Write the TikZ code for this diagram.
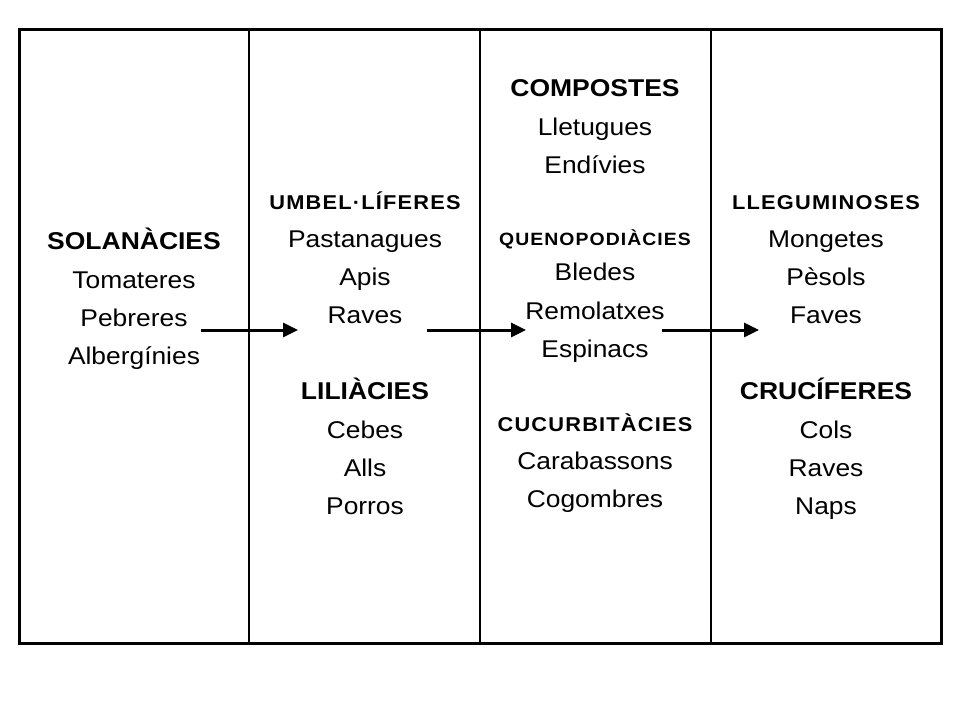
\documentclass[tikz,border=0pt]{standalone}
\usepackage{fontspec}
\setmainfont{Liberation Sans}[FakeStretch=1.09]
\usetikzlibrary{arrows.meta}

\tikzset{
  txt/.style={anchor=base, inner sep=0pt, font=\fontsize{24.2}{30}\selectfont},
  fam/.style={anchor=base, inner sep=0pt, font=\bfseries\fontsize{24.3}{30}\selectfont},
  sub/.style={anchor=base, inner sep=0pt, font=\bfseries\fontsize{20}{22}\selectfont\addfontfeature{LetterSpace=6}},
  arr/.style={line width=3pt, -{Triangle[length=15pt,width=14pt]}}
}

\begin{document}
\begin{tikzpicture}[x=1pt,y=-1pt]
    \useasboundingbox (0,0) rectangle (960,720);
    % columns
    \foreach \x in {249,480,711}
    \draw[line width=1.3pt] (\x,29) -- (\x,643);
    \draw[line width=3pt] (19,29) rectangle (941,643);
    % first column
    \node[fam] (sol) at (134,249) {SOLANÀCIES};
    \foreach \n/\t/\y in {tom/Tomateres/288, peb/Pebreres/326, alb/Albergínies/364}
    \node[txt] (\n) at (134,\y) {\t};
    % second column
    \node[sub] (umb) at (365,209) {UMBEL·LÍFERES};
    \node[fam] (lil) at (365,399) {LILIÀCIES};
    \foreach \n/\t/\y in {pas/Pastanagues/247, api/Apis/285, rav/Raves/323,
                          ceb/Cebes/438, all/Alls/476, por/Porros/514}
    \node[txt] (\n) at (365,\y) {\t};
    % third column
    \node[fam] (com) at (595,96) {COMPOSTES};
    \node[sub, font=\bfseries\fontsize{17.8}{20}\selectfont\addfontfeature{LetterSpace=6}] (que) at (595,245) {QUENOPODIÀCIES};
    \node[sub] (cuc) at (595,431) {CUCURBITÀCIES};
    \foreach \n/\t/\y in {lle/Lletugues/135, end/Endívies/173, ble/Bledes/280,
                          rem/Remolatxes/319, esp/Espinacs/357,
                          car/Carabassons/469, cog/Cogombres/507}
    \node[txt] (\n) at (595,\y) {\t};
    % fourth column
    \node[sub] (leg) at (826,209) {LLEGUMINOSES};
    \node[fam] (cru) at (826,399) {CRUCÍFERES};
    \foreach \n/\t/\y in {mon/Mongetes/247, pes/Pèsols/285, fav/Faves/323,
                          col/Cols/438, rv2/Raves/476, nap/Naps/514}
    \node[txt] (\n) at (826,\y) {\t};
    % arrows
    \coordinate (s1) at (201,330); \coordinate (e1) at (298,330);
    \coordinate (s2) at (427,330); \coordinate (e2) at (526,330);
    \coordinate (s3) at (662,330); \coordinate (e3) at (759,330);
    \foreach \i in {1,2,3}
    \draw[arr] (s\i) -- (e\i);
\end{tikzpicture}
\end{document}
